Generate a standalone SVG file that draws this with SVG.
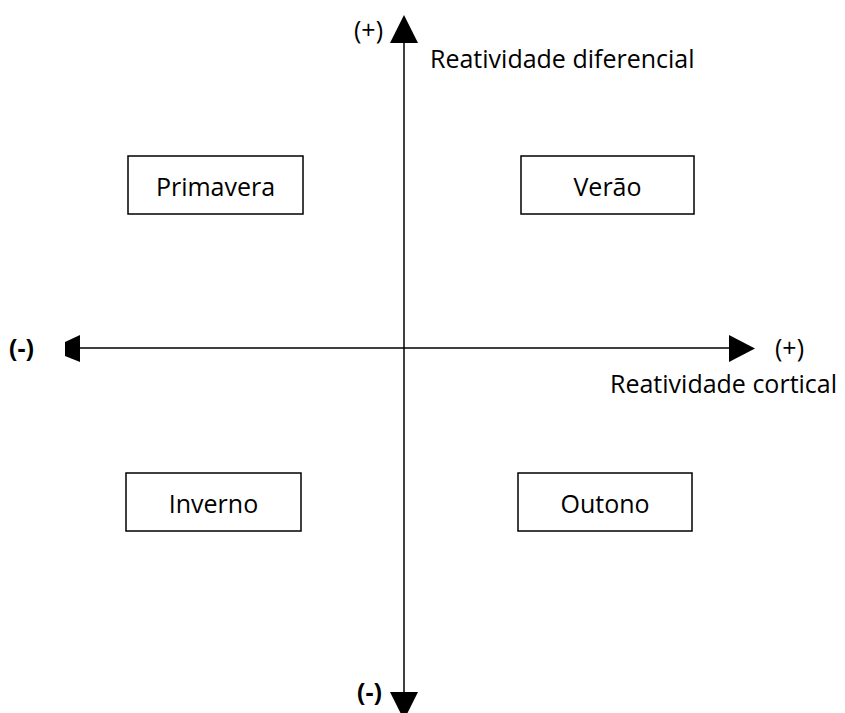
<svg xmlns="http://www.w3.org/2000/svg" width="845" height="713" viewBox="0 0 845 713">
<style>
.t{font-family:"Open Sans","Liberation Sans",sans-serif;font-size:25px;fill:#000}
.b{font-weight:bold}
.box{fill:#fff;stroke:#000;stroke-width:1.5}
.ax{stroke:#000;stroke-width:1.5;fill:none}
</style>
<rect width="845" height="713" fill="#fff"/>
<g id="connectors">
<line class="ax" x1="404" y1="42" x2="404" y2="692"/>
<polygon points="404,15 390,43 418,43" fill="#000"/>
<polygon points="390,692 418,692 404,720" fill="#000"/>
<line class="ax" x1="80" y1="348" x2="730" y2="348"/>
<polygon points="729,335 755,348.5 729,362" fill="#000"/>
<polygon points="65,342 80,335 80,362 65,356" fill="#000"/>
</g>
<g id="labels">
<text class="t" x="354" y="39">(+)</text>
<text class="t" x="430" y="68">Reatividade diferencial</text>
<text class="t b" x="9" y="357">(-)</text>
<text class="t" x="775" y="357">(+)</text>
<text class="t" x="610" y="393">Reatividade cortical</text>
<text class="t b" x="357" y="701">(-)</text>
</g>
<g id="primavera"><rect class="box" x="128" y="156" width="175" height="58"/><text class="t" x="215.5" y="196" text-anchor="middle">Primavera</text></g>
<g id="verao"><rect class="box" x="521" y="156" width="173" height="58"/><text class="t" x="607.5" y="196" text-anchor="middle">Verão</text></g>
<g id="inverno"><rect class="box" x="126" y="473" width="175" height="58"/><text class="t" x="213.5" y="513" text-anchor="middle">Inverno</text></g>
<g id="outono"><rect class="box" x="518" y="473" width="174" height="58"/><text class="t" x="605" y="513" text-anchor="middle">Outono</text></g>
</svg>
